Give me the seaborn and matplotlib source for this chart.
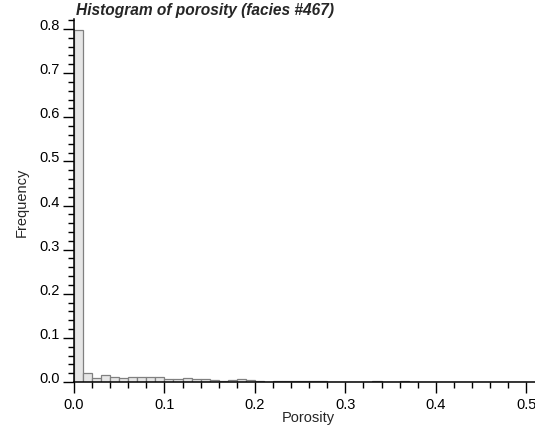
import numpy as np
import pandas as pd
import matplotlib
matplotlib.use("Agg")
import matplotlib.pyplot as plt
from matplotlib.ticker import MultipleLocator, FormatStrFormatter
import seaborn as sns

# ---- data ----
bin_width = 0.01
bin_left = [round(i * bin_width, 2) for i in range(50)]
frequency = [
    0.797, 0.021, 0.010, 0.016, 0.011, 0.010, 0.011, 0.011, 0.011, 0.011,
    0.007, 0.006, 0.008, 0.006, 0.007, 0.005, 0.003, 0.005, 0.006, 0.004,
    0.003, 0.001, 0.003, 0.002, 0.002, 0.002, 0.002, 0.002, 0.001, 0.001,
    0.001, 0.001, 0.001, 0.002, 0.001, 0.001, 0.003, 0.001, 0.000, 0.000,
    0.000, 0.000, 0.000, 0.000, 0.000, 0.000, 0.000, 0.000, 0.000, 0.000,
]
title = "Histogram of porosity (facies #467)"
x_label = "Porosity"
y_label = "Frequency"

df = pd.DataFrame({"porosity": np.array(bin_left) + bin_width / 2,
                   "freq": frequency})

sns.set_style("ticks")
plt.rcParams["font.family"] = ["Liberation Sans", "DejaVu Sans"]

W, H = 535, 431
fig = plt.figure(figsize=(W / 100, H / 100), dpi=100)
ax = fig.add_axes([74 / W, 1 - 383 / H, (W - 74) / W, (383 - 20) / H])

sns.histplot(data=df, x="porosity", weights="freq", binwidth=bin_width,
             binrange=(0.0, 0.5),
             color="#e6e6e6", edgecolor="#808080", linewidth=0.9,
             alpha=1.0, ax=ax)

ax.set_xlim(0, 0.5097)
ax.set_ylim(0, 0.8227)
ax.xaxis.set_major_locator(MultipleLocator(0.1))
ax.xaxis.set_minor_locator(MultipleLocator(0.02))
ax.yaxis.set_major_locator(MultipleLocator(0.1))
ax.yaxis.set_minor_locator(MultipleLocator(0.02))
ax.xaxis.set_major_formatter(FormatStrFormatter("%.1f"))
ax.yaxis.set_major_formatter(FormatStrFormatter("%.1f"))

for side in ["top", "right"]:
    ax.spines[side].set_visible(False)
for side in ["left", "bottom"]:
    ax.spines[side].set_linewidth(1.1)
    ax.spines[side].set_color("black")

ax.tick_params(axis="both", which="major", direction="out", length=8,
               width=1.0, color="black", labelsize=10.5, labelcolor="black")
ax.tick_params(axis="both", which="minor", direction="out", length=4.5,
               width=1.0, color="black")
ax.tick_params(axis="y", which="major", pad=2.5)
ax.tick_params(axis="x", which="major", pad=2.5)
for lab in ax.get_yticklabels():
    lab.set_verticalalignment("baseline")

ax.set_xlabel(x_label, fontsize=10.5, labelpad=1)
ax.set_ylabel(y_label, fontsize=10.5, labelpad=6)
ax.xaxis.set_label_coords((308 - 74) / (W - 74), -(424 - 383) / (383 - 20) + 0.005)
ax.yaxis.set_label_coords(-(74 - 22) / (W - 74), (383 - 202) / (383 - 20))
ax.xaxis.label.set_verticalalignment("baseline")
ax.yaxis.label.set_verticalalignment("center")

fig.text(76 / W, 1 - 10 / H, title, fontsize=11.2, fontweight="bold",
         fontstyle="italic", va="center", ha="left")

fig.savefig("out.png", dpi=100)
